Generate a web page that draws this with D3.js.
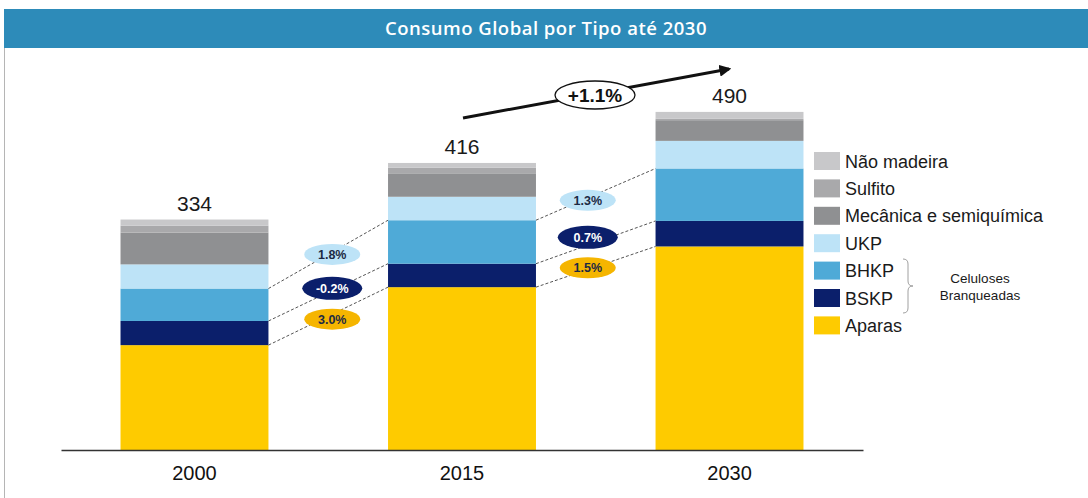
<!DOCTYPE html>
<html>
<head>
<meta charset="utf-8">
<script src="https://cdn.jsdelivr.net/npm/d3@7"></script>
<style>
  html, body { margin: 0; padding: 0; background: #fff; }
  svg { display: block; }
</style>
</head>
<body>
<svg id="chart" width="1088" height="498"></svg>
<script>
// Consumo global de celulose por tipo (milhões de t)
const years = ["2000", "2015", "2030"];
const aparas       = [152, 236, 295];
const bskp         = [35, 34, 37];
const bhkp         = [47, 63, 76];
const ukp          = [35, 34, 40];
const mecanica     = [46, 34, 30];
const sulfito      = [10, 8, 2];
const naoMadeira   = [9, 7, 10];
const totals       = [334, 416, 490];

// Taxas de crescimento anual entre períodos
const growthBhkp   = ["1.8%", "1.3%"];
const growthBskp   = ["-0.2%", "0.7%"];
const growthAparas = ["3.0%", "1.5%"];
const growthTotal  = "+1.1%";

const seriesKeys   = ["Aparas", "BSKP", "BHKP", "UKP", "Mecânica e semiquímica", "Sulfito", "Não madeira"];
const seriesValues = [aparas, bskp, bhkp, ukp, mecanica, sulfito, naoMadeira];
const legendOrder  = ["Não madeira", "Sulfito", "Mecânica e semiquímica", "UKP", "BHKP", "BSKP", "Aparas"];
const colors = {
  "Aparas": "#fecb00",
  "BSKP": "#0b1f6b",
  "BHKP": "#4faad7",
  "UKP": "#bde3f7",
  "Mecânica e semiquímica": "#8f9092",
  "Sulfito": "#a9a9ab",
  "Não madeira": "#c8c8ca"
};

const svg = d3.select("#chart");
const W = 1088, H = 498;

// Moldura e faixa de título
svg.append("line").attr("x1", 4.5).attr("x2", 4.5).attr("y1", 40).attr("y2", H)
  .attr("stroke", "#b5b5b5").attr("stroke-width", 1);
svg.append("rect").attr("x", 4).attr("y", 9).attr("width", W - 4).attr("height", 39)
  .attr("fill", "#2d8bb9");
svg.append("text").attr("x", 546).attr("y", 35).attr("text-anchor", "middle")
  .attr("font-family", "'Open Sans', sans-serif").attr("font-weight", 600)
  .attr("font-size", 18.5).attr("letter-spacing", 0.5).attr("fill", "#ffffff")
  .text("Consumo Global por Tipo até 2030");

// Escalas
const x = d3.scaleBand().domain(years).range([61, 863]).paddingInner(0.447).paddingOuter(0.2225);
const y = d3.scaleLinear().domain([0, 500]).range([450, 105]);

// Pilhas
const table = years.map((yr, i) => {
  const row = { year: yr };
  seriesKeys.forEach((k, j) => row[k] = seriesValues[j][i]);
  return row;
});
const stacked = d3.stack().keys(seriesKeys)(table);

const g = svg.append("g");
g.selectAll("g.layer").data(stacked).join("g")
  .attr("class", "layer").attr("fill", d => colors[d.key])
  .selectAll("rect").data(d => d).join("rect")
  .attr("x", d => x(d.data.year))
  .attr("width", x.bandwidth())
  .attr("y", d => y(d[1]))
  .attr("height", d => y(d[0]) - y(d[1]));

// Linhas tracejadas entre os topos de Aparas, BSKP e BHKP
const linkLayers = [
  { key: "BHKP", labels: growthBhkp, fill: "#bde3f7", text: "#1c2a44", rx: 28, ry: 10.5, dy: [0, 6] },
  { key: "BSKP", labels: growthBskp, fill: "#0b1f6b", text: "#ffffff", rx: 30, ry: 11.5, dy: [-4, -5] },
  { key: "Aparas", labels: growthAparas, fill: "#f5b500", text: "#1c2a44", rx: 28, ry: 10.5, dy: [3, 1] }
];
const dxOff = [4, -8];

linkLayers.forEach(L => {
  const layer = stacked.find(s => s.key === L.key);
  for (let i = 0; i < years.length - 1; i++) {
    const x1 = x(years[i]) + x.bandwidth(), y1 = y(layer[i][1]);
    const x2 = x(years[i + 1]), y2 = y(layer[i + 1][1]);
    g.append("line").attr("x1", x1).attr("y1", y1).attr("x2", x2).attr("y2", y2)
      .attr("stroke", "#555").attr("stroke-width", 1).attr("stroke-dasharray", "3,2");
  }
});
linkLayers.forEach(L => {
  const layer = stacked.find(s => s.key === L.key);
  for (let i = 0; i < years.length - 1; i++) {
    const x1 = x(years[i]) + x.bandwidth(), y1 = y(layer[i][1]);
    const x2 = x(years[i + 1]), y2 = y(layer[i + 1][1]);
    const cx = (x1 + x2) / 2 + dxOff[i], cy = (y1 + y2) / 2 + L.dy[i];
    g.append("ellipse").attr("cx", cx).attr("cy", cy).attr("rx", L.rx).attr("ry", L.ry)
      .attr("fill", L.fill);
    g.append("text").attr("x", cx).attr("y", cy + 4.5).attr("text-anchor", "middle")
      .attr("font-family", "'Liberation Sans', Arial, sans-serif").attr("font-weight", 700)
      .attr("font-size", 12.5).attr("fill", L.text).text(L.labels[i]);
  }
});

// Totais acima das barras
g.selectAll("text.total").data(years).join("text").attr("class", "total")
  .attr("x", d => x(d) + x.bandwidth() / 2)
  .attr("y", (d, i) => y(totals[i]) - 9)
  .attr("text-anchor", "middle")
  .attr("font-family", "'Liberation Sans', Arial, sans-serif")
  .attr("font-size", 21).attr("fill", "#1a1a1a")
  .text((d, i) => totals[i]);

// Eixo horizontal
const xAxis = d3.axisBottom(x).tickSize(0).tickPadding(16);
const ax = svg.append("g").attr("transform", "translate(0,450)").call(xAxis);
ax.select(".domain").attr("stroke", "#333").attr("stroke-width", 1.6);
ax.selectAll("text").attr("font-family", "'Liberation Sans', Arial, sans-serif")
  .attr("font-size", 20).attr("fill", "#111");

// Seta de crescimento total
const defs = svg.append("defs");
defs.append("marker").attr("id", "arrowHead").attr("viewBox", "0 0 10 10")
  .attr("refX", 8).attr("refY", 5).attr("markerWidth", 4).attr("markerHeight", 4)
  .attr("orient", "auto")
  .append("path").attr("d", "M0,0 L10,5 L0,10 Z").attr("fill", "#111");
svg.append("line").attr("x1", 463).attr("y1", 118).attr("x2", 729).attr("y2", 69)
  .attr("stroke", "#111").attr("stroke-width", 3).attr("marker-end", "url(#arrowHead)");
svg.append("ellipse").attr("cx", 595).attr("cy", 95).attr("rx", 40).attr("ry", 14)
  .attr("fill", "#fff").attr("stroke", "#111").attr("stroke-width", 1.3);
svg.append("text").attr("x", 595).attr("y", 102).attr("text-anchor", "middle")
  .attr("font-family", "'Liberation Sans', Arial, sans-serif").attr("font-weight", 700)
  .attr("font-size", 19).attr("fill", "#111").text(growthTotal);

// Legenda
const leg = svg.append("g").attr("transform", "translate(814,152)");
const items = leg.selectAll("g").data(legendOrder).join("g")
  .attr("transform", (d, i) => `translate(0,${i * 27.4})`);
items.append("rect").attr("width", 26).attr("height", 18).attr("fill", d => colors[d]);
items.append("text").attr("x", 31).attr("y", 15.5)
  .attr("font-family", "'Liberation Sans', Arial, sans-serif")
  .attr("font-size", 18).attr("fill", "#1a1a1a").text(d => d);

// Chave das celuloses branqueadas
svg.append("path")
  .attr("d", "M903,259 Q908,259 908,264 L908,281 Q908,286 913,286 Q908,286 908,291 L908,308 Q908,313 903,313")
  .attr("fill", "none").attr("stroke", "#a0a0a0").attr("stroke-width", 1);
svg.append("text").attr("x", 980).attr("y", 283).attr("text-anchor", "middle")
  .attr("font-family", "'Liberation Sans', Arial, sans-serif").attr("font-size", 13.5)
  .attr("fill", "#1a1a1a").text("Celuloses");
svg.append("text").attr("x", 980).attr("y", 300).attr("text-anchor", "middle")
  .attr("font-family", "'Liberation Sans', Arial, sans-serif").attr("font-size", 13.5)
  .attr("fill", "#1a1a1a").text("Branqueadas");
</script>
</body>
</html>
